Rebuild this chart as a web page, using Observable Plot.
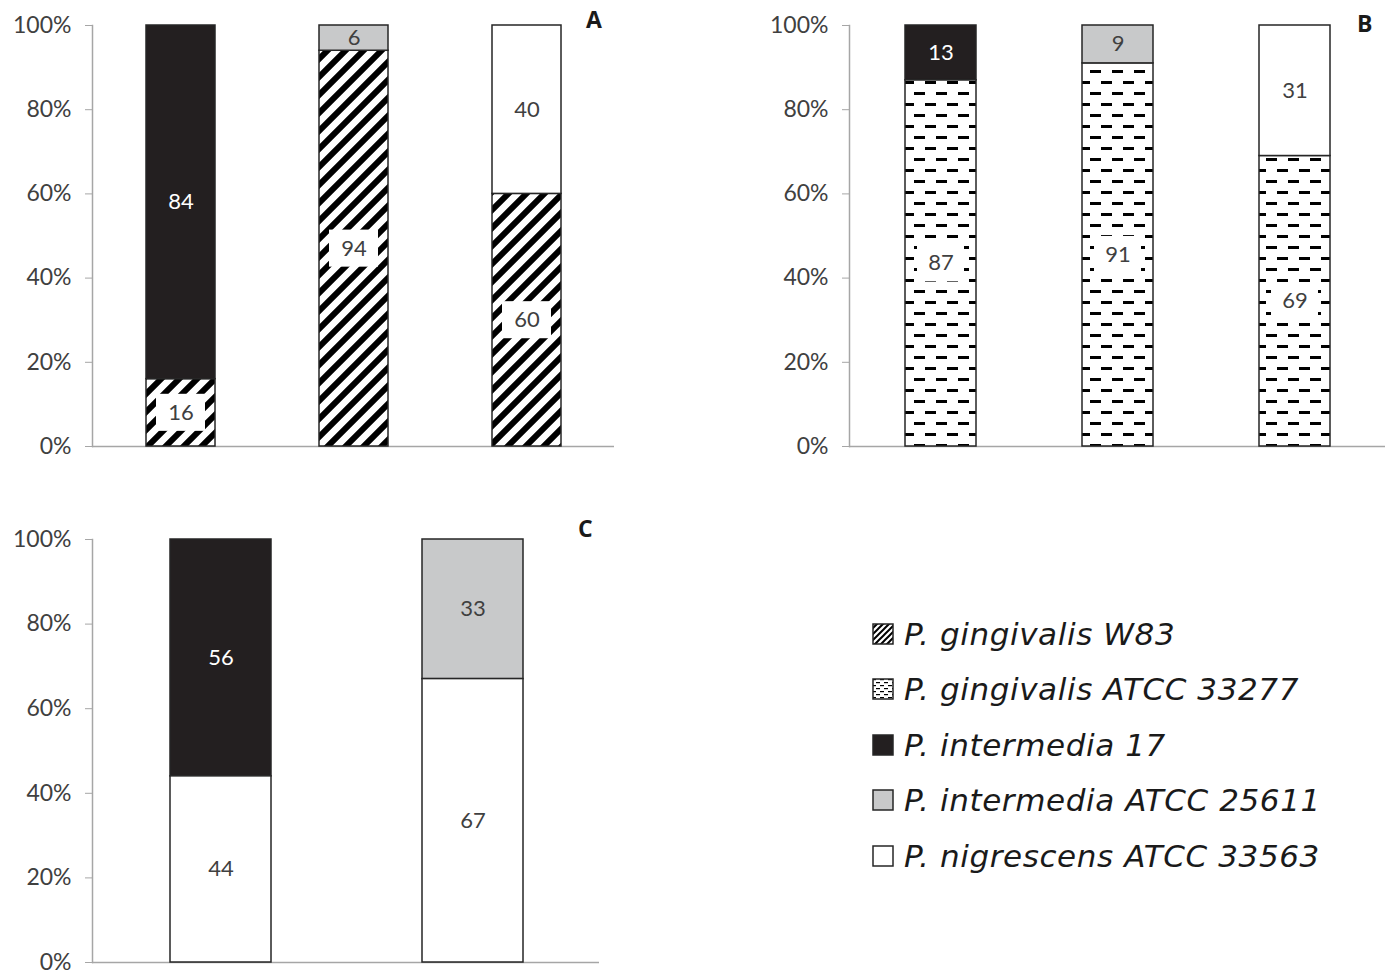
<!DOCTYPE html>
<html>
<head>
<meta charset="utf-8">
<script src="https://cdn.jsdelivr.net/npm/d3@7"></script>
<script src="https://cdn.jsdelivr.net/npm/@observablehq/plot@0.6"></script>
<style>
  html, body { margin: 0; padding: 0; background: #fff; }
  #wrap { position: relative; width: 1387px; height: 974px; overflow: hidden; font-family: Lato, "Open Sans", sans-serif; }
  .panel { position: absolute; }
  .letter { position: absolute; font-weight: bold; font-size: 23px; color: #1a1a1a; font-family: "Open Sans", Lato, sans-serif; }
  #legend { position: absolute; left: 872px; top: 606px; }
  .item { display: flex; align-items: center; height: 55.5px; font-style: italic; font-size: 31px; letter-spacing: 0.6px; color: #1a1a1a; font-family: "DejaVu Sans", sans-serif; white-space: nowrap; }
  .item svg { margin-right: 10px; }
</style>
</head>
<body>
<svg width="0" height="0" style="position:absolute">
  <defs>
    <pattern id="hatch" patternUnits="userSpaceOnUse" width="18" height="18">
      <rect width="18" height="18" fill="#fff"/>
      <path d="M-4.5,4.5 L4.5,-4.5 M0,18 L18,0 M13.5,22.5 L22.5,13.5" stroke="#000" stroke-width="6"/>
    </pattern>
    <pattern id="dash" patternUnits="userSpaceOnUse" width="22" height="22">
      <rect width="22" height="22" fill="#fff"/>
      <rect x="0" y="4" width="11" height="3" fill="#000"/>
      <rect x="11" y="15" width="11" height="3" fill="#000"/>
    </pattern>
    <pattern id="hatchS" patternUnits="userSpaceOnUse" width="6" height="6">
      <rect width="6" height="6" fill="#fff"/>
      <path d="M-1.5,1.5 L1.5,-1.5 M0,6 L6,0 M4.5,7.5 L7.5,4.5" stroke="#000" stroke-width="2"/>
    </pattern>
    <pattern id="dashS" patternUnits="userSpaceOnUse" width="8" height="6">
      <rect width="8" height="6" fill="#fff"/>
      <rect x="0" y="1" width="4" height="1.2" fill="#000"/>
      <rect x="4" y="4" width="4" height="1.2" fill="#000"/>
    </pattern>
  </defs>
</svg>
<div id="wrap">
  <div class="letter" style="left:586px; top:3px;">A</div>
  <div class="letter" style="left:1357px; top:7px;">B</div>
  <div class="letter" style="left:578px; top:512px;">C</div>
  <div id="legend"></div>
</div>
<script>
// ---------- data ----------
const species = [
  "P. gingivalis W83",
  "P. gingivalis ATCC 33277",
  "P. intermedia 17",
  "P. intermedia ATCC 25611",
  "P. nigrescens ATCC 33563"
];
const fills = ["url(#hatch)", "url(#dash)", "#231f20", "#c8c9ca", "#ffffff"];
const legendFills = ["url(#hatchS)", "url(#dashS)", "#231f20", "#c8c9ca", "#ffffff"];

// Panel A
const barsA = ["1", "1", "2", "2", "3", "3"];
const speciesA = [species[0], species[2], species[0], species[3], species[0], species[4]];
const valuesA = [16, 84, 94, 6, 60, 40];

// Panel B
const barsB = ["1", "1", "2", "2", "3", "3"];
const speciesB = [species[1], species[2], species[1], species[3], species[1], species[4]];
const valuesB = [87, 13, 91, 9, 69, 31];

// Panel C
const barsC = ["1", "1", "2", "2"];
const speciesC = [species[4], species[2], species[4], species[3]];
const valuesC = [44, 56, 67, 33];

const yTicks = [0, 20, 40, 60, 80, 100];

// ---------- build ----------
function build(bars, sp, vals) {
  const acc = {};
  return bars.map((b, i) => {
    const y1 = acc[b] || 0;
    const y2 = y1 + vals[i];
    acc[b] = y2;
    return {bar: b, species: sp[i], value: vals[i], y1, y2, mid: (y1 + y2) / 2};
  });
}

const axisGray = "#a6a6a6";
const textGray = "#404040";

function panel(rows, opt) {
  const boxed = rows.filter(d => d.species === species[0] || d.species === species[1]);
  const marks = [
    Plot.ruleY([0], {stroke: axisGray, strokeWidth: 1.5}),
    Plot.frame({anchor: "left", stroke: axisGray, strokeWidth: 1.5}),
    Plot.axisY({ticks: yTicks, tickFormat: d => d + "%", tickSize: 7, tickPadding: 14,
      stroke: axisGray, fill: textGray, fontSize: 23}),
    ...species.map((s, i) => Plot.barY(rows.filter(d => d.species === s), {
      x: "bar", y1: "y1", y2: "y2", fill: fills[i], stroke: "#262626", strokeWidth: 1.5,
      insetLeft: 0, insetRight: 0
    })),
    Plot.barY(boxed, {
      x: "bar", y1: d => d.mid - 4.4, y2: d => d.mid + 4.4, fill: "#fff",
      insetLeft: opt.boxInset, insetRight: opt.boxInset
    }),
    Plot.text(rows.filter(d => d.species === species[2]), {
      x: "bar", y: "mid", text: d => String(d.value), fill: "#fff", fontSize: 22
    }),
    Plot.text(rows.filter(d => d.species !== species[2]), {
      x: "bar", y: "mid", text: d => String(d.value), fill: textGray, fontSize: 22
    })
  ];
  const p = Plot.plot({
    width: opt.width, height: opt.height,
    marginLeft: opt.marginLeft, marginRight: opt.marginRight,
    marginTop: opt.marginTop, marginBottom: opt.marginBottom,
    x: {domain: opt.domain, axis: null, paddingInner: 0.6, paddingOuter: 0.3,
        insetLeft: opt.insetLeft, insetRight: opt.insetRight},
    y: {domain: [0, 100], axis: null},
    style: {fontFamily: "Lato, 'Open Sans', sans-serif", fontSize: "22px", color: textGray, background: "transparent", overflow: "visible"},
    marks
  });
  p.classList.add("panel");
  p.style.left = opt.left + "px";
  p.style.top = opt.top + "px";
  document.getElementById("wrap").appendChild(p);
}

panel(build(barsA, speciesA, valuesA), {
  left: 0, top: 0, width: 614, height: 470,
  marginLeft: 92, marginRight: 0, marginTop: 25, marginBottom: 24,
  insetLeft: 2.5, insetRight: 0.5, domain: ["1", "2", "3"], boxInset: 10
});
panel(build(barsB, speciesB, valuesB), {
  left: 760, top: 0, width: 627, height: 470,
  marginLeft: 89, marginRight: 2, marginTop: 25, marginBottom: 24,
  insetLeft: 1.5, insetRight: 1, domain: ["1", "2", "3"], boxInset: 12
});
panel(build(barsC, speciesC, valuesC), {
  left: 0, top: 500, width: 599, height: 474,
  marginLeft: 92, marginRight: 0, marginTop: 39, marginBottom: 12,
  insetLeft: 2.5, insetRight: 0.5, domain: ["1", "2"], boxInset: 20
});

// ---------- legend ----------
const legend = document.getElementById("legend");
species.forEach((s, i) => {
  const item = document.createElement("div");
  item.className = "item";
  item.innerHTML = `<svg width="22" height="22"><rect x="1" y="1" width="20" height="20" fill="${legendFills[i]}" stroke="#262626" stroke-width="1.5"/></svg><span>${s}</span>`;
  legend.appendChild(item);
});
</script>
</body>
</html>
